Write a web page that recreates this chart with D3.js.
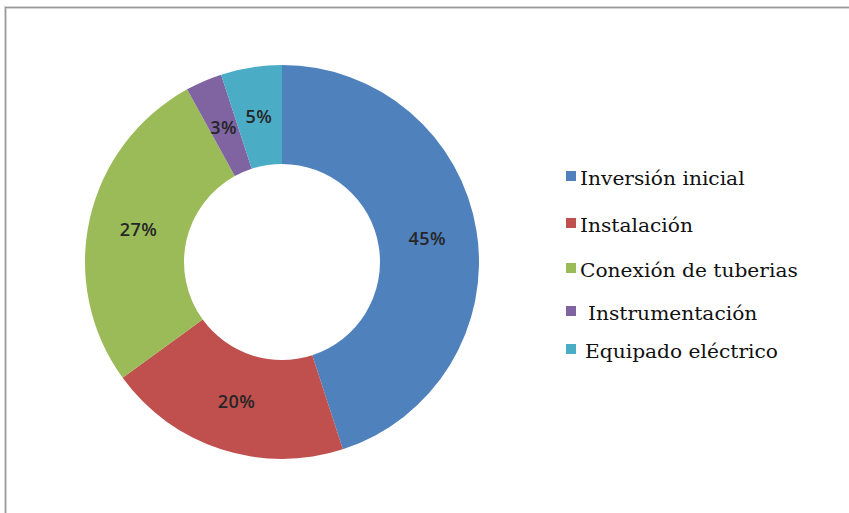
<!DOCTYPE html>
<html>
<head>
<meta charset="utf-8">
<script src="https://cdn.jsdelivr.net/npm/d3@7"></script>
<style>
  html, body { margin: 0; padding: 0; background: #fff; }
  svg { display: block; }
</style>
</head>
<body>
<svg id="chart" width="849" height="513"></svg>
<script>
// Cost breakdown shares (percent)
const categories = ["Inversión inicial", "Instalación", "Conexión de tuberias", "Instrumentación", "Equipado eléctrico"];
const values = [45, 20, 27, 3, 5];
const colors = ["#4F81BD", "#C0504D", "#9BBB59", "#8064A2", "#4BACC6"];

const svg = d3.select("#chart");
const W = 849, H = 513;

// Chart frame (only top and left edges fall inside the view)
svg.append("rect")
  .attr("x", 5.5).attr("y", 7.5)
  .attr("width", W + 20).attr("height", H + 20)
  .attr("fill", "#fff")
  .attr("stroke", "#d4d4d4").attr("stroke-width", 3);
svg.append("rect")
  .attr("x", 5.5).attr("y", 7.5)
  .attr("width", W + 20).attr("height", H + 20)
  .attr("fill", "none")
  .attr("stroke", "#9a9a9a").attr("stroke-width", 1);

// Donut
const cx = 282, cy = 262, rOuter = 197, rInner = 98;
const data = categories.map((c, i) => ({ name: c, value: values[i], color: colors[i] }));

const pie = d3.pie().value(d => d.value).sort(null);
const arc = d3.arc().innerRadius(rInner).outerRadius(rOuter);
const labelArc = d3.arc().innerRadius(147).outerRadius(147);

const g = svg.append("g").attr("transform", `translate(${cx},${cy})`);
const arcs = pie(data);

g.selectAll("path.slice")
  .data(arcs)
  .join("path")
  .attr("class", "slice")
  .attr("d", arc)
  .attr("fill", d => d.data.color);

g.selectAll("text.pct")
  .data(arcs)
  .join("text")
  .attr("class", "pct")
  .attr("transform", d => `translate(${labelArc.centroid(d)})`)
  .attr("text-anchor", "middle")
  .attr("dy", "0.36em")
  .attr("font-family", "'Open Sans', 'Noto Sans', sans-serif")
  .attr("font-weight", 600)
  .attr("font-size", 18)
  .attr("letter-spacing", 0.5)
  .attr("fill", "#262626")
  .text(d => d.data.value + "%");

// Legend
const legendBaselines = [185, 232, 277, 320, 358];
const legendTextX = [580, 580, 580, 588, 585];
const legend = svg.append("g");
const labels = [];
data.forEach((d, i) => {
  const y = legendBaselines[i];
  legend.append("rect")
    .attr("x", 566).attr("y", y - 14)
    .attr("width", 10).attr("height", 10)
    .attr("fill", d.color);
  const t = legend.append("text")
    .attr("font-family", "'DejaVu Serif', serif")
    .attr("font-size", 18)
    .attr("fill", "#111")
    .text(d.name);
  labels.push({ t, x: legendTextX[i], y });
});
// Stretch the legend type horizontally so the widest entry spans 218px
const widest = d3.max(labels, l => l.t.node().getComputedTextLength());
const sx = 218 / widest;
labels.forEach(l => l.t.attr("transform", `translate(${l.x},${l.y}) scale(${sx},1)`));
</script>
</body>
</html>
